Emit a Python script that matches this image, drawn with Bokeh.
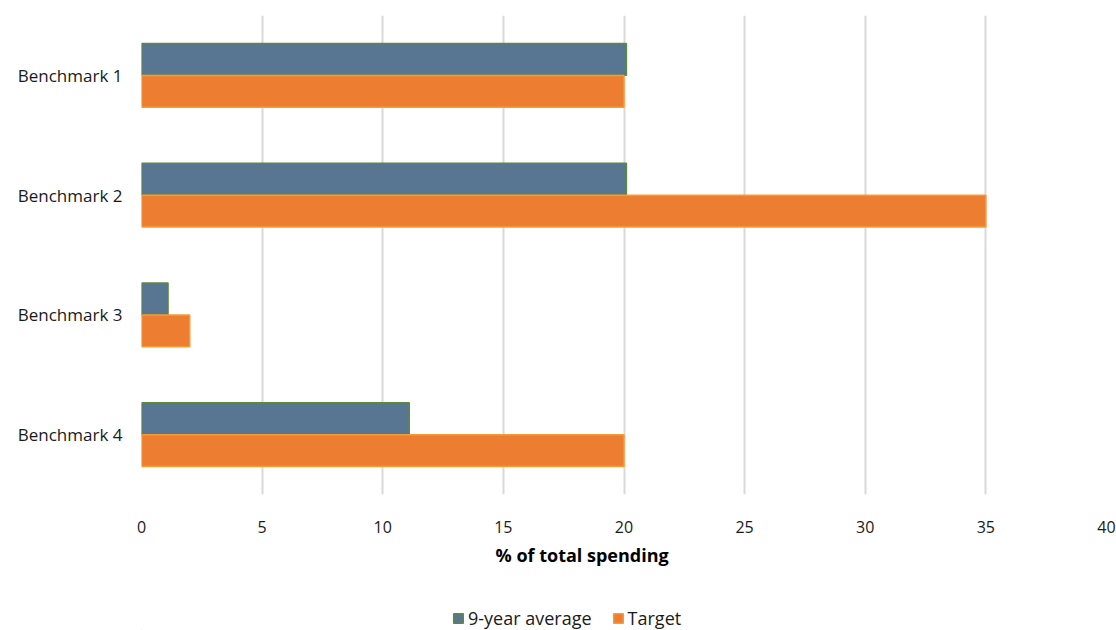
from bokeh.plotting import figure
from bokeh.layouts import column
from bokeh.models import FactorRange, Range1d, Legend, LegendItem, Title, FixedTicker, ColumnDataSource
from bokeh.transform import dodge
from bokeh.embed import file_html
from bokeh.resources import INLINE

categories = ["Benchmark 1", "Benchmark 2", "Benchmark 3", "Benchmark 4"]
average_9yr = [20.1, 20.1, 1.1, 11.1]
target = [20.0, 35.0, 2.0, 20.0]
x_ticks = [0, 5, 10, 15, 20, 25, 30, 35, 40]
series_names = ["9-year average", "Target"]

FONT = "Open Sans"
BLUE = "#587591"
BLUE_LINE = "#5b8a3a"
ORANGE = "#ed7d31"
ORANGE_LINE = "#f59c36"

src = ColumnDataSource(dict(cat=categories, avg=average_9yr, tgt=target))

p = figure(width=1116, height=600, output_backend="svg", toolbar_location=None,
           y_range=FactorRange(factors=list(reversed(categories)), range_padding=0),
           x_range=Range1d(0, 40),
           min_border_left=141, min_border_right=10, min_border_top=15, min_border_bottom=106)
p.outline_line_color = None

bar_h = 0.267
r1 = p.hbar(y=dodge("cat", bar_h / 2, range=p.y_range), right="avg", left=0, height=bar_h,
            source=src, fill_color=BLUE, line_color=BLUE_LINE, line_width=1.5)
r2 = p.hbar(y=dodge("cat", -bar_h / 2, range=p.y_range), right="tgt", left=0, height=bar_h,
            source=src, fill_color=ORANGE, line_color=ORANGE_LINE, line_width=1.5)

p.xaxis.ticker = FixedTicker(ticks=x_ticks)
for ax in (p.xaxis[0], p.yaxis[0]):
    ax.axis_line_color = None
    ax.major_tick_line_color = None
    ax.minor_tick_line_color = None
    ax.major_label_text_font = FONT
    ax.major_label_text_font_size = "16px"
    ax.major_label_text_color = "#1a1a1a"
p.yaxis.major_label_text_font_size = "17px"
p.xaxis.major_label_standoff = 20
p.yaxis.major_label_standoff = 13

p.xgrid.grid_line_color = "#d9d9d9"
p.xgrid.grid_line_width = 2
p.xgrid.ticker = FixedTicker(ticks=x_ticks)
p.ygrid.grid_line_color = None

title = Title(text="% of total spending", align="left", offset=354,
              text_font=FONT, text_font_size="18px", text_font_style="bold",
              text_color="#000000")
p.add_layout(title, "below")

# legend strip below the chart (frames are aligned with the chart above)
lg = figure(width=1116, height=30, output_backend="svg", toolbar_location=None,
            x_range=Range1d(0, 1), y_range=Range1d(0, 1),
            min_border_left=0, min_border_right=0, min_border_top=0, min_border_bottom=0)
lg.axis.visible = False
lg.grid.visible = False
lg.outline_line_color = None
# legend swatch renderers, placed outside the visible range
d1 = lg.hbar(y=[-5], right=[-2], left=-3, height=0.1, fill_color=BLUE, line_color=BLUE_LINE, line_width=1.5)
d2 = lg.hbar(y=[-5], right=[-2], left=-3, height=0.1, fill_color=ORANGE, line_color=ORANGE_LINE, line_width=1.5)
legend = Legend(items=[LegendItem(label=series_names[0], renderers=[d1]),
                       LegendItem(label=series_names[1], renderers=[d2])],
                orientation="horizontal", location=(311, 0),
                label_text_font=FONT, label_text_font_size="18px", label_text_color="#1a1a1a",
                glyph_width=12, glyph_height=12, spacing=20, label_standoff=4,
                border_line_color=None, background_fill_alpha=0, margin=0, padding=2)
lg.add_layout(legend, "center")

layout = column(p, lg, spacing=0)
open("out.html", "w").write(file_html(layout, INLINE))
